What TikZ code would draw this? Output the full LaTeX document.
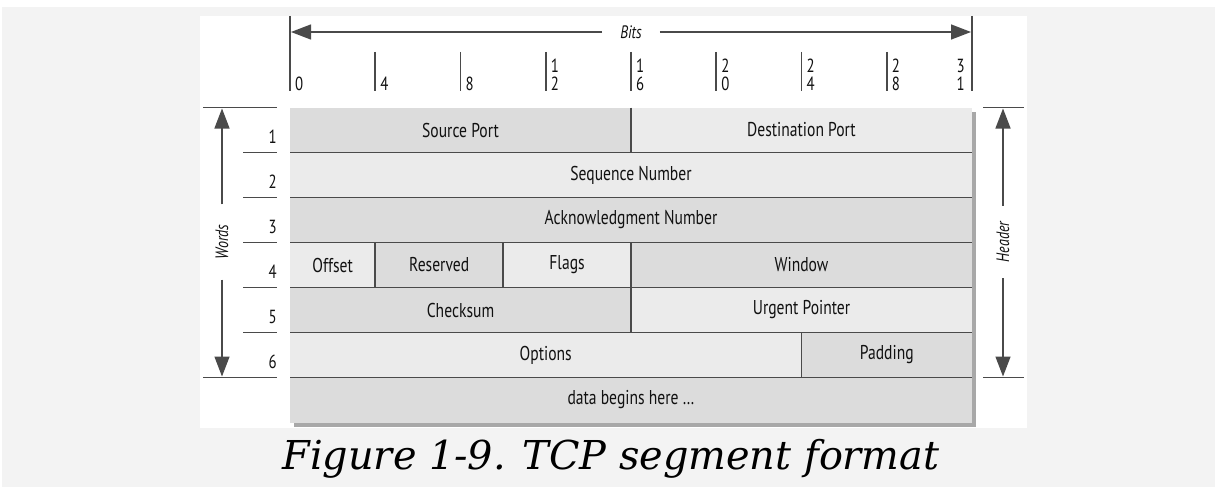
\documentclass[tikz,border=0pt]{standalone}
\usepackage{fontspec}
\setmainfont{DejaVu Serif}
\newfontfamily\cond[FakeStretch=0.78]{PT Sans}
\usetikzlibrary{arrows.meta}
\definecolor{bggray}{HTML}{F3F3F3}
\definecolor{cdark}{HTML}{DCDCDC}
\definecolor{clight}{HTML}{EBEBEB}
\definecolor{rulec}{HTML}{4A4A4A}
\definecolor{shadowc}{HTML}{A8A8A8}
\definecolor{txt}{HTML}{111111}
\newcommand\cellfont{\cond\fontsize{20}{24}\selectfont}
\newcommand\digfont{\cond\fontsize{19}{22}\selectfont}
\newcommand\labfont{\cond\itshape\fontsize{18}{22}\selectfont}
\tikzset{
  cell/.style={inner sep=0pt, outer sep=0pt, minimum height=45pt, anchor=north west, font=\cellfont, text=txt},
  dk/.style={cell, fill=cdark},
  lt/.style={cell, fill=clight},
  sepline/.style={draw=rulec, line width=1.6pt},
  tickline/.style={draw=rulec, line width=1.6pt},
  dig/.style={inner sep=0pt, font=\digfont, text=txt},
  arr/.style={draw=rulec, line width=1.4pt, -{Triangle[length=20pt,width=15pt]}},
  lab/.style={font=\labfont, text=txt, inner ysep=0pt},
}
\begin{document}
\begin{tikzpicture}[x=1pt,y=-1pt]
\useasboundingbox (0,0) rectangle (1215,487);
% background
\fill[white] (0,0) rectangle (1215,487);
\fill[bggray] (2,7) rectangle (1215,487);
\fill[white] (200,16) rectangle (1027,428);
% shadow
\fill[shadowc] (294,111.5) rectangle (976,427);
% cells
\node[dk, minimum width=341pt] (sport) at (290,107.5) {Source Port};
\node[lt, minimum width=341pt] (dport) at (631,107.5) {Destination Port};
\node[lt, minimum width=682pt] (seq) at (290,152.5) {Sequence Number};
\node[dk, minimum width=682pt] (ack) at (290,197.5) {Acknowledgment Number};
\node[lt, minimum width=85.25pt] (off) at (290,242.5) {Offset};
\node[dk, minimum width=127.875pt] (res) at (375.25,242.5) {Reserved};
\node[lt, minimum width=127.875pt] (flags) at (503.125,242.5) {Flags};
\node[dk, minimum width=341pt] (win) at (631,242.5) {Window};
\node[dk, minimum width=341pt] (chk) at (290,287.5) {Checksum};
\node[lt, minimum width=341pt] (urg) at (631,287.5) {Urgent Pointer};
\node[lt, minimum width=511.5pt] (opt) at (290,332.5) {Options};
\node[dk, minimum width=170.5pt] (pad) at (801.5,332.5) {Padding};
\node[dk, minimum width=682pt] (data) at (290,377.5) {data begins here \ldots};
% separators
\draw[sepline] (sport.south west) -- (dport.south east);
\draw[sepline] (seq.south west) -- (seq.south east);
\draw[sepline] (ack.south west) -- (ack.south east);
\draw[sepline] (off.south west) -- (win.south east);
\draw[sepline] (chk.south west) -- (urg.south east);
\draw[sepline] (opt.south west) -- (pad.south east);
\draw[sepline] (sport.north east) -- (sport.south east);
\draw[sepline] (off.north east) -- (off.south east);
\draw[sepline] (res.north east) -- (res.south east);
\draw[sepline] (flags.north east) -- (flags.south east);
\draw[sepline] (chk.north east) -- (chk.south east);
\draw[sepline] (opt.north east) -- (opt.south east);
% bit ruler
\coordinate (r0top) at (290,16);
\coordinate (r0bot) at (290,91);
\coordinate (r32top) at (972,16);
\coordinate (r32bot) at (972,91);
\draw[tickline] (r0top) -- (r0bot);
\draw[tickline] (r32top) -- (r32bot);
\foreach \k in {1,...,7}{
  \coordinate (t\k a) at ({290+85.25*\k},52);
  \coordinate (t\k b) at ({290+85.25*\k},91);
  \draw[tickline] (t\k a) -- (t\k b);
}
\node[dig, anchor=base west] (d0) at (295,90) {0};
\node[dig, anchor=base west] (d4) at (380.25,90) {4};
\node[dig, anchor=base west] (d8) at (465.5,90) {8};
\foreach \k/\a/\b in {3/1/2,4/1/6,5/2/0,6/2/4,7/2/8}{
  \node[dig, anchor=base west] (u\k) at ({295+85.25*\k},73) {\a};
  \node[dig, anchor=base west] (l\k) at ({295+85.25*\k},90) {\b};
}
\node[dig, anchor=base east] (u31) at (965,73) {3};
\node[dig, anchor=base east] (l31) at (965,90) {1};
\coordinate (bitsL) at (291,32);
\coordinate (bitsR) at (971,32);
\node[lab, inner xsep=18pt] (bits) at (631,32) {Bits};
\draw[arr] (bits) -- (bitsL);
\draw[arr] (bits) -- (bitsR);
% words
\coordinate (wTopA) at (203,107.5);
\coordinate (wTopB) at (277,107.5);
\coordinate (wBotA) at (203,377.5);
\coordinate (wBotB) at (277,377.5);
\draw[sepline] (wTopA) -- (wTopB);
\draw[sepline] (wBotA) -- (wBotB);
\foreach \r in {1,...,5}{
  \coordinate (n\r a) at (243,{107.5+45*\r});
  \coordinate (n\r b) at (277,{107.5+45*\r});
  \draw[sepline] (n\r a) -- (n\r b);
}
\foreach \r in {1,...,6}{
  \node[dig, anchor=base east] (num\r) at (277,{107.5+45*\r-9}) {\r};
}
\coordinate (wUp) at (222,108.5);
\coordinate (wDn) at (222,376.5);
\node[lab, rotate=90, inner xsep=20pt] (words) at (222,242) {Words};
\draw[arr] (words) -- (wUp);
\draw[arr] (words) -- (wDn);
% header
\coordinate (hTopA) at (983,107.5);
\coordinate (hTopB) at (1024,107.5);
\coordinate (hBotA) at (983,377.5);
\coordinate (hBotB) at (1024,377.5);
\draw[sepline] (hTopA) -- (hTopB);
\draw[sepline] (hBotA) -- (hBotB);
\coordinate (hUp) at (1003,108.5);
\coordinate (hDn) at (1003,376.5);
\node[lab, rotate=90, inner xsep=16pt] (header) at (1003,242) {Header};
\draw[arr] (header) -- (hUp);
\draw[arr] (header) -- (hDn);
% caption
\node[anchor=base, inner sep=0pt, font=\itshape\fontsize{39.8}{42}\selectfont] (cap) at (611,469) {Figure 1-9. TCP segment format};
\end{tikzpicture}
\end{document}
